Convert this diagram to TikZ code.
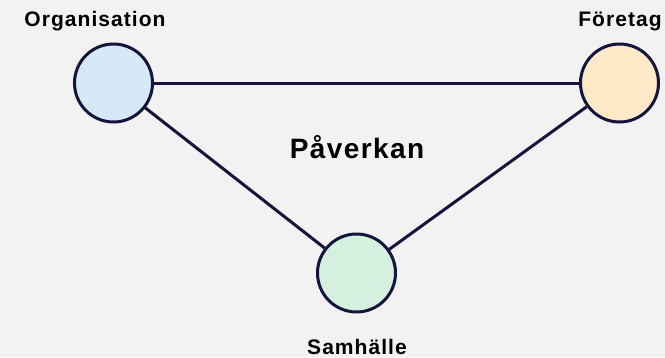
\documentclass[tikz,border=0pt]{standalone}
\usepackage{fontspec}
\setmainfont{Liberation Sans}[LetterSpace=5]
\definecolor{bg}{HTML}{F2F2F2}
\definecolor{ink}{HTML}{14143C}
\definecolor{fillA}{HTML}{D6E9F6}
\definecolor{fillB}{HTML}{FDE9C8}
\definecolor{fillC}{HTML}{D6F0E0}
\begin{document}
\begin{tikzpicture}[x=1pt,y=-1pt,
  hub/.style={circle,draw=ink,line width=3pt,minimum size=78pt,inner sep=0pt},
  link/.style={draw=ink,line width=3pt},
  lbl/.style={font=\fontsize{21}{24}\selectfont\bfseries,text=black,inner sep=0pt,anchor=base},
  title/.style={font=\fontsize{28}{32}\selectfont\bfseries,text=black,inner sep=0pt,anchor=base}]
\fill[bg] (0,0) rectangle (665,357);
\useasboundingbox (0,0) rectangle (665,357);
\node[hub,fill=fillA] (org) at (113.5,83) {};
\node[hub,fill=fillB] (ftg) at (619.5,83) {};
\node[hub,fill=fillC] (sam) at (356.5,273) {};
\draw[link] (org) -- (ftg);
\draw[link] (org) -- (sam);
\draw[link] (ftg) -- (sam);
\node[lbl] (torg) at (95,26) {Organisation};
\node[lbl] (tftg) at (620,26) {Företag};
\node[lbl] (tsam) at (357,354) {Samhälle};
\node[title] (tpav) at (357,158) {Påverkan};
\end{tikzpicture}
\end{document}
